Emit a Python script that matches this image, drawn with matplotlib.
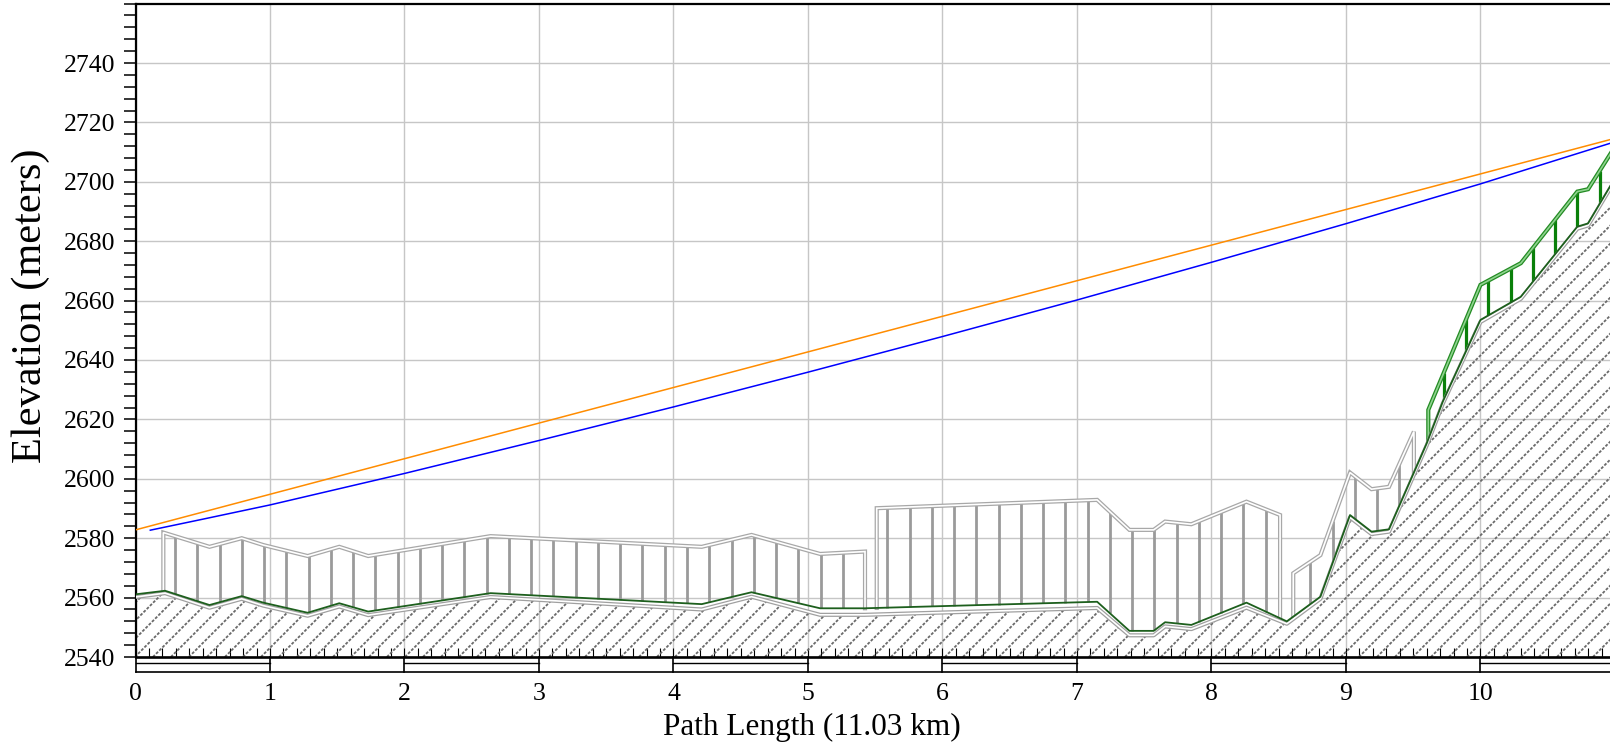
import numpy as np
import matplotlib
matplotlib.use("Agg")
import matplotlib.pyplot as plt
from matplotlib.patches import Polygon
from matplotlib.collections import LineCollection
from matplotlib.transforms import blended_transform_factory
from matplotlib.ticker import MultipleLocator

plt.rcParams['font.family'] = ['Liberation Serif', 'DejaVu Serif']

# -------------------------------------------------------
# Datos del perfil (km, metros)
# -------------------------------------------------------
perfil_km = [0, 0.22, 0.55, 0.79, 0.95, 1.28, 1.515, 1.73, 2.64, 4.21, 4.58, 5.09, 5.42,
             7.15, 7.39, 7.57, 7.655, 7.85, 8.26, 8.56, 8.81, 9.03, 9.19, 9.32, 9.6, 9.72,
             10.0, 10.3, 10.72, 10.8, 11.03]
terreno_m = [2560.2, 2561.5, 2556.6, 2559.6, 2557.3, 2553.9, 2557.0, 2554.1, 2560.2, 2556.0,
             2560.3, 2554.2, 2554.2, 2556.5, 2547.3, 2547.3, 2550.3, 2549.4, 2556.6, 2551.2,
             2559.6, 2587.0, 2581.4, 2582.2, 2611.2, 2625.3, 2652.8, 2660.6, 2684.2, 2685.3,
             2702.8]
suelo_m = [2561.1, 2562.3, 2557.5, 2560.5, 2558.3, 2554.9, 2558.1, 2555.3, 2561.5, 2557.8,
           2561.8, 2556.4, 2556.4, 2558.6, 2548.8, 2548.8, 2551.7, 2550.8, 2558.3, 2552.0,
           2560.3, 2587.8, 2582.2, 2583.0, 2611.9, 2626.0, 2653.5, 2661.3, 2684.9, 2686.0,
           2703.5]

# Zonas de obstaculos (vegetacion / edificios)
zona_a_km = [0.207, 0.55, 0.79, 0.95, 1.28, 1.515, 1.73, 2.64, 4.21, 4.58, 5.09, 5.424]
zona_a_m = [2581.9, 2577.1, 2580.0, 2577.7, 2574.0, 2577.1, 2574.0, 2580.7, 2577.1, 2581.1,
            2574.7, 2575.5]
zona_b_km = [5.511, 7.15, 7.39, 7.57, 7.655, 7.85, 8.26, 8.51]
zona_b_m = [2590.1, 2592.9, 2582.8, 2582.8, 2585.6, 2584.7, 2592.3, 2587.8]
zona_c_km = [8.608, 8.81, 9.03, 9.19, 9.32, 9.505]
zona_c_m = [2568.2, 2574.3, 2602.1, 2596.5, 2597.3, 2615.9]
zona_d_km = [9.612, 10.0, 10.3, 10.72, 10.8, 11.03]
zona_d_m = [2623.2, 2665.3, 2672.6, 2696.7, 2697.5, 2714.0]

# Lineas de vista
naranja_km = [0, 11.03]
naranja_m = [2582.8, 2715.0]
azul_km = [0.11, 0.5, 1, 2, 3, 4, 5, 6, 7, 8, 9, 10, 11.03]
azul_m = [2582.7, 2586.4, 2591.2, 2601.8, 2612.9, 2624.2, 2635.9, 2647.9, 2660.2, 2672.9,
          2685.9, 2699.3, 2713.9]

# Muestras del perfil donde se dibujan las barras verticales
MUESTRA_INICIO = 0.294
MUESTRA_PASO = 0.1655
N_MUESTRAS = 66

X_MAX = 10.963
Y_MIN, Y_MAX = 2540, 2760

# -------------------------------------------------------
# Figura
# -------------------------------------------------------
W, H = 1610, 750
fig = plt.figure(figsize=(W / 100, H / 100), dpi=100)
ax_izq, ax_inf, ax_sup = 135.5, 657.0, 3.6
ax = fig.add_axes([ax_izq / W, 1 - ax_inf / H, 1 - ax_izq / W, (ax_inf - ax_sup) / H])
ax.set_xlim(0, X_MAX)
ax.set_ylim(Y_MIN, Y_MAX)

ax.grid(True, which='major', color='#c6c6c6', linewidth=1.0)
ax.set_axisbelow(True)

# terreno con rayado
verts = [(perfil_km[0], Y_MIN)] + list(zip(perfil_km, terreno_m)) + [(perfil_km[-1], Y_MIN)]
poligono = Polygon(verts, closed=True, facecolor='none', edgecolor='none')
ax.add_patch(poligono)

px_km = (W - ax_izq) / X_MAX
px_m = (ax_inf - ax_sup) / (Y_MAX - Y_MIN)
desplaz = (Y_MAX - Y_MIN) * px_m / px_km
segmentos = []
for x0 in np.arange(-desplaz - 0.5, 11.5, 18.0 / px_km):
    segmentos.append([(x0, Y_MIN), (x0 + desplaz, Y_MAX)])
rayas = LineCollection(segmentos, colors='#6a6a6a', linewidths=1.3,
                       linestyles=[(0, (1.6, 0.9))], zorder=2)
rayas.set_clip_path(poligono)
ax.add_collection(rayas)


def dibujar_zona(z_km, z_m, color_barra, color_borde, color_interior, ancho_barra):
    base0 = np.interp(z_km[0], perfil_km, suelo_m)
    base1 = np.interp(z_km[-1], perfil_km, suelo_m)
    xs = [z_km[0]] + list(z_km) + [z_km[-1]]
    ys = [base0] + list(z_m) + [base1]

    muestras = MUESTRA_INICIO + MUESTRA_PASO * np.arange(N_MUESTRAS)
    dentro = muestras[(muestras > z_km[0] + 0.01) & (muestras < z_km[-1] - 0.01)]
    abajo = np.interp(dentro, perfil_km, suelo_m)
    arriba = np.interp(dentro, z_km, z_m)
    ax.vlines(dentro, abajo, arriba, colors=color_barra, linewidth=ancho_barra, zorder=3)

    ax.plot(xs, ys, color=color_borde, linewidth=3.0, zorder=4, solid_joinstyle='miter')
    ax.plot(xs, ys, color=color_interior, linewidth=1.2, zorder=4, solid_joinstyle='miter')


dibujar_zona(zona_a_km, zona_a_m, '#9a9a9a', '#a8a8a8', 'white', 2.0)
dibujar_zona(zona_b_km, zona_b_m, '#9a9a9a', '#a8a8a8', 'white', 2.0)
dibujar_zona(zona_c_km, zona_c_m, '#9a9a9a', '#a8a8a8', 'white', 2.0)
dibujar_zona(zona_d_km, zona_d_m, '#0a800a', '#238b23', '#8fd48f', 2.3)

# linea de terreno (doble) y linea de suelo verde
ax.plot(perfil_km, terreno_m, color='#a0a0a0', linewidth=3.0, zorder=4)
ax.plot(perfil_km, terreno_m, color='white', linewidth=1.2, zorder=4)
ax.plot(perfil_km, suelo_m, color='#1d5f1d', linewidth=1.3, zorder=5)

# lineas de vista
ax.plot(naranja_km, naranja_m, color='#ff8c00', linewidth=1.1, zorder=6)
ax.plot(azul_km, azul_m, color='#0000ff', linewidth=1.1, zorder=6)

# ejes y marcas
for lado in ['left', 'top']:
    ax.spines[lado].set_linewidth(1.6)
ax.spines['bottom'].set_linewidth(1.9)
ax.spines['right'].set_visible(False)

ax.yaxis.set_major_locator(MultipleLocator(20))
ax.yaxis.set_minor_locator(MultipleLocator(4))
ax.xaxis.set_major_locator(MultipleLocator(1))
ax.xaxis.set_minor_locator(MultipleLocator(0.1))
ax.tick_params(axis='y', which='both', direction='out', length=8.6, width=1.1, pad=6.0,
               labelsize=18.5)
ax.tick_params(axis='x', which='both', direction='in', length=6.5, width=0.8, pad=19,
               labelsize=18.5)
ax.tick_params(top=False, right=False)
ax.set_yticks(np.arange(2540, 2741, 20))
ax.set_xticks(np.arange(0, 11, 1))

# barra de escala bajo el eje
trans = blended_transform_factory(ax.transData, ax.transAxes)
alto_ax = ax_inf - ax_sup
y_fondo = -14.7 / alto_ax
y_medio = -6.0 / alto_ax
ax.plot([0, 11.1], [y_fondo, y_fondo], color='black', linewidth=1.2, transform=trans,
        clip_on=False)
for k in range(0, 12):
    ax.plot([k, k], [0, y_fondo], color='black', linewidth=1.2, transform=trans, clip_on=False)
    if k % 2 == 0:
        ax.plot([k, k + 1], [y_medio, y_medio], color='black', linewidth=1.0, transform=trans,
                clip_on=False)

# titulos de ejes
fig.text(811.7 / W, 1 - 727 / H, 'Path Length (11.03 km)', ha='center', va='center',
         fontsize=22.5)
fig.text(30.8 / W, 1 - 305.5 / H, 'Elevation (meters)', ha='center', va='center',
         rotation=90, fontsize=30.5)

fig.savefig('out.png', dpi=100)
plt.close(fig)
